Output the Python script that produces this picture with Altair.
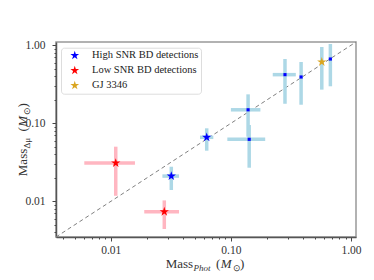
import altair as alt
import pandas as pd

# ---------------- data ----------------
series = ["High SNR BD detections", "Low SNR BD detections", "GJ 3346"]
series_colors = ["#0000ff", "#ff0000", "#daa520"]

# star-marked points
star_name = ["High SNR BD detections", "High SNR BD detections",
             "Low SNR BD detections", "Low SNR BD detections", "GJ 3346"]
star_x = [0.0319, 0.0629, 0.0110, 0.0279, 0.571]
star_y = [0.0211, 0.0662, 0.0310, 0.00738, 0.610]
star_xlo = [0.0269, 0.0553, 0.00602, 0.0190, 0.571]
star_xhi = [0.0370, 0.0714, 0.0159, 0.0370, 0.571]
star_ylo = [0.0140, 0.0446, 0.0118, 0.00443, 0.270]
star_yhi = [0.0278, 0.0863, 0.0502, 0.0103, 0.949]
star_ecol = ["#add8e6", "#add8e6", "#ffb6c1", "#ffb6c1", "#add8e6"]

# small dot points
dot_x = [0.139, 0.142, 0.282, 0.384, 0.673]
dot_y = [0.149, 0.0624, 0.420, 0.392, 0.666]
dot_xlo = [0.100, 0.0934, 0.223, 0.384, 0.673]
dot_xhi = [0.176, 0.193, 0.347, 0.384, 0.673]
dot_ylo = [0.0674, 0.0270, 0.178, 0.173, 0.298]
dot_yhi = [0.235, 0.0951, 0.666, 0.610, 1.037]

diag = [0.0035, 1.1]
domain = [0.0035, 1.1]
major_ticks = [0.01, 0.1, 1.0]
minor_ticks = [0.004, 0.005, 0.006, 0.007, 0.008, 0.009,
               0.02, 0.03, 0.04, 0.05, 0.06, 0.07, 0.08, 0.09,
               0.2, 0.3, 0.4, 0.5, 0.6, 0.7, 0.8, 0.9]

x_title_parts = ["Mass", "Phot", "(", "M", "⊙", ")"]
y_title_parts = ["Mass", "Δμ", "(", "M", "⊙", ")"]

# ---------------- build tables ----------------
stars = pd.DataFrame({"name": star_name, "x": star_x, "y": star_y,
                      "xlo": star_xlo, "xhi": star_xhi,
                      "ylo": star_ylo, "yhi": star_yhi, "ecol": star_ecol})
dots = pd.DataFrame({"x": dot_x, "y": dot_y, "xlo": dot_xlo, "xhi": dot_xhi,
                     "ylo": dot_ylo, "yhi": dot_yhi,
                     "ecol": ["#add8e6"] * len(dot_x)})
errs = pd.concat([stars.drop(columns=["name"]), dots], ignore_index=True)
diag_df = pd.DataFrame({"x": diag, "y": diag})

FONT = "Liberation Serif, Times New Roman, serif"
STAR = ("M0,-1L0.2245,-0.309L0.951,-0.309L0.3633,0.118L0.588,0.809L0,0.382"
        "L-0.588,0.809L-0.3633,0.118L-0.951,-0.309L-0.2245,-0.309Z")

all_ticks = sorted(major_ticks + minor_ticks)
is_major = "abs(log(datum.value)/LN10 - round(log(datum.value)/LN10)) < 0.01"

def make_axis(pad):
    return alt.Axis(values=all_ticks, title=None, grid=False,
                    labelExpr=f"({is_major}) ? format(datum.value, '.2f') : ''",
                    tickSize={"condition": {"test": is_major, "value": 4}, "value": 2},
                    labelOverlap=False, labelFont=FONT, labelFontSize=11.5,
                    labelColor="#333", tickColor="#444", domainColor="#555",
                    domainWidth=1.5, labelFlush=False, labelPadding=pad)

xs = alt.Scale(type="log", domain=domain, nice=False)
ys = alt.Scale(type="log", domain=domain, nice=False)

X = lambda f: alt.X(f, type="quantitative", scale=xs, axis=make_axis(3))
Y = lambda f: alt.Y(f, type="quantitative", scale=ys, axis=make_axis(7))

diag_layer = alt.Chart(diag_df).mark_line(
    color="#808080", strokeDash=[4, 3], strokeWidth=1
).encode(x=X("x"), y=Y("y"))

herr = alt.Chart(errs).mark_rule(strokeWidth=3.5).encode(
    x=X("xlo"), x2="xhi", y=Y("y"), color=alt.Color("ecol:N", scale=None))
verr = alt.Chart(errs).mark_rule(strokeWidth=3.5).encode(
    x=X("x"), y=Y("ylo"), y2="yhi", color=alt.Color("ecol:N", scale=None))

dot_layer = alt.Chart(dots).mark_square(size=10, color="#0000ff", opacity=1).encode(
    x=X("x"), y=Y("y"))

star_layer = alt.Chart(stars).mark_point(
    shape=STAR, filled=True, size=95, opacity=1, strokeWidth=0
).encode(
    x=X("x"), y=Y("y"),
    color=alt.Color("name:N", sort=series,
                    scale=alt.Scale(domain=series, range=series_colors),
                    legend=alt.Legend(title=None, orient="none", legendX=5, legendY=5.7,
                                      symbolType=STAR, symbolSize=85,
                                      symbolStrokeWidth=0, symbolOffset=6,
                                      labelFont=FONT, labelFontSize=10.5,
                                      labelColor="#222", labelOffset=12,
                                      padding=2.5, rowPadding=4,
                                      fillColor="white", strokeColor="#dddddd",
                                      cornerRadius=3)))

def txt(s, x, y, size, angle=0, italic=False):
    return alt.Chart(pd.DataFrame({"t": [s]})).mark_text(
        font=FONT, fontSize=size, align="left", baseline="alphabetic",
        angle=angle, fontStyle="italic" if italic else "normal", color="#333"
    ).encode(text="t:N", x=alt.value(x), y=alt.value(y))

xt = x_title_parts
x_title = [
    txt(xt[0], 109.7, 226, 13),
    txt(xt[1], 137.6, 229, 9, italic=True),
    txt(xt[2], 160, 226, 13),
    txt(xt[3], 164.7, 226, 13, italic=True),
    txt(xt[4], 176.5, 229, 9),
    txt(xt[5], 184, 226, 13),
]
yt = y_title_parts
y_title = [
    txt(yt[0], -29, 134.2, 13, angle=270),
    txt(yt[1], -26, 106.5, 9, angle=270),
    txt(yt[2], -29, 89.6, 13, angle=270),
    txt(yt[3], -29, 84.7, 13, angle=270, italic=True),
    txt(yt[4], -26, 72.5, 9, angle=270),
    txt(yt[5], -29, 65.6, 13, angle=270),
]

chart = alt.layer(
    diag_layer, herr, verr, dot_layer, star_layer, *x_title, *y_title
).properties(
    width=300, height=195,
    autosize=alt.AutoSizeParams(type="none"),
    padding={"left": 48, "top": 34, "right": 10, "bottom": 35},
).configure_view(
    stroke="#999", strokeWidth=1.5
).configure_legend(
    labelFont=FONT, labelFontSize=10.5
).configure_text(
    font=FONT
)

chart.save("out.html", embed_options={"renderer": "svg", "actions": False})
